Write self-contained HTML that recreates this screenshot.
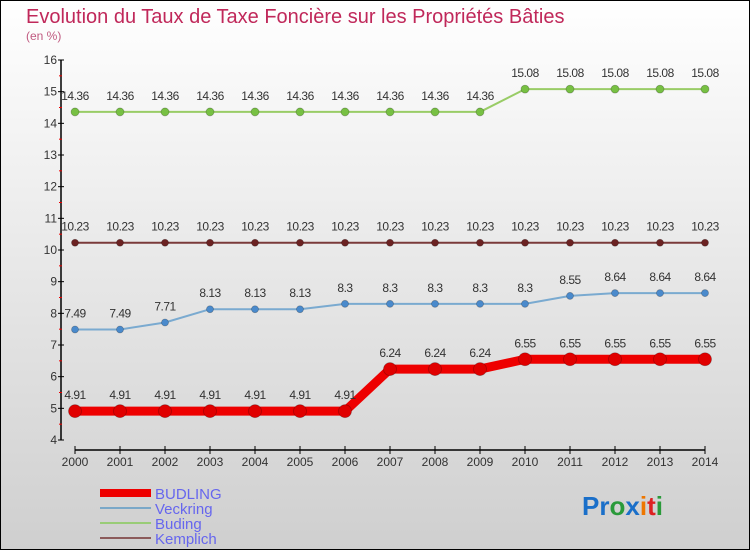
<!DOCTYPE html>
<html><head><meta charset="utf-8"><style>
html,body{margin:0;padding:0}
body{width:750px;height:550px;overflow:hidden;font-family:"Liberation Sans",sans-serif}
svg{display:block}
</style></head><body>
<svg id="chart" width="750" height="550" xmlns="http://www.w3.org/2000/svg">
<defs><linearGradient id="bg" x1="0" y1="0" x2="0" y2="1"><stop offset="0" stop-color="#ffffff"/><stop offset="1" stop-color="#cfcfcf"/></linearGradient></defs>
<rect x="0.5" y="0.5" width="749" height="549" fill="url(#bg)" stroke="#000"/>
<text x="26" y="23" font-size="20" fill="#c0285a">Evolution du Taux de Taxe Foncière sur les Propriétés Bâties</text>
<text x="26" y="40" font-size="12" fill="#c05a80">(en %)</text>
<g id="axes"></g>
<g id="series"></g>
<g id="legend">
<rect x="100" y="489" width="51" height="8" fill="#e00"/>
<text x="155" y="499" font-size="15" fill="#6666ee">BUDLING</text>
<rect x="100" y="507" width="51" height="2" fill="#7aa8c8"/>
<text x="155" y="514" font-size="15" fill="#6666ee">Veckring</text>
<rect x="100" y="522" width="51" height="2" fill="#99cc77"/>
<text x="155" y="529" font-size="15" fill="#6666ee">Buding</text>
<rect x="100" y="537" width="51" height="2" fill="#8b5a5a"/>
<text x="155" y="544" font-size="15" fill="#6666ee">Kemplich</text>
</g>
<text x="582" y="515" font-size="26" font-weight="bold"><tspan fill="#1a6fc9">Pr</tspan><tspan fill="#2a9a3a">o</tspan><tspan fill="#1a6fc9">x</tspan><tspan fill="#ee7700">i</tspan><tspan fill="#dd2222">t</tspan><tspan fill="#2a9a3a">i</tspan></text>
</svg>
<script>
const years=[2000,2001,2002,2003,2004,2005,2006,2007,2008,2009,2010,2011,2012,2013,2014];
const budling=[4.91,4.91,4.91,4.91,4.91,4.91,4.91,6.24,6.24,6.24,6.55,6.55,6.55,6.55,6.55];
const veckring=[7.49,7.49,7.71,8.13,8.13,8.13,8.3,8.3,8.3,8.3,8.3,8.55,8.64,8.64,8.64];
const buding=[14.36,14.36,14.36,14.36,14.36,14.36,14.36,14.36,14.36,14.36,15.08,15.08,15.08,15.08,15.08];
const kemplich=[10.23,10.23,10.23,10.23,10.23,10.23,10.23,10.23,10.23,10.23,10.23,10.23,10.23,10.23,10.23];
const yTicks=[4,5,6,7,8,9,10,11,12,13,14,15,16];
const NS="http://www.w3.org/2000/svg";
const xS=i=>75+i*45;
const yS=v=>440-(v-4)*(380/12);
function mk(tag,attrs,parent){const e=document.createElementNS(NS,tag);for(const k in attrs)e.setAttribute(k,attrs[k]);parent.appendChild(e);return e;}
const ax=document.getElementById('axes');
let e=mk('line',{x1:61,y1:yS(16),x2:61,y2:yS(4),stroke:'#000','stroke-width':1.5},ax);


yTicks.forEach(v=>{
  let t=mk('line',{x1:58,y1:yS(v),x2:64,y2:yS(v),stroke:'#000'},ax);
  
  
  if(v<16){let m=mk('line',{x1:59,y1:yS(v+0.5),x2:62,y2:yS(v+0.5),stroke:'#e00'},ax);
  
  }
  let l=mk('text',{x:57,y:yS(v)+4,'font-size':12,fill:'#333','text-anchor':'end'},ax);
  l.textContent=v;
  
  
});
e=mk('line',{x1:xS(0),y1:450,x2:xS(years.length-1),y2:450,stroke:'#000','stroke-width':1.5},ax);


years.forEach((y,i)=>{
  let t=mk('line',{x1:xS(i),y1:446,x2:xS(i),y2:454,stroke:'#000'},ax);
  
  
  let l=mk('text',{x:xS(i),y:466,'font-size':12,fill:'#333','text-anchor':'middle'},ax);
  l.textContent=y;
  
  
});
const sg=document.getElementById('series');
function draw(name,vals,color,w,r,dot){
  const g=mk('g',{},sg);
  
  
  let p=mk('polyline',{points:vals.map((v,i)=>xS(i)+','+yS(v)).join(' '),fill:'none',stroke:color,'stroke-width':w,'stroke-linejoin':'round'},g);
  
  
  vals.forEach((v,i)=>{
    let c=mk('circle',{cx:xS(i),cy:yS(v),r:r,fill:dot,stroke:'rgba(0,0,0,0.25)','stroke-width':0.8},g);
    
    
    let t=mk('text',{x:xS(i),y:yS(v)-12,'font-size':12,fill:'#333','text-anchor':'middle','letter-spacing':'-0.5'},g);
    t.textContent=v;
    
    
  });
}
draw('buding',buding,'#99cc66',2,4,'#77c043');
draw('kemplich',kemplich,'#7a3a3a',2,3.5,'#6b2222');
draw('veckring',veckring,'#7aaad0',2,3.5,'#4a8acc');
draw('budling',budling,'#ee0000',9,6.5,'#e00000');
</script>
</body></html>
